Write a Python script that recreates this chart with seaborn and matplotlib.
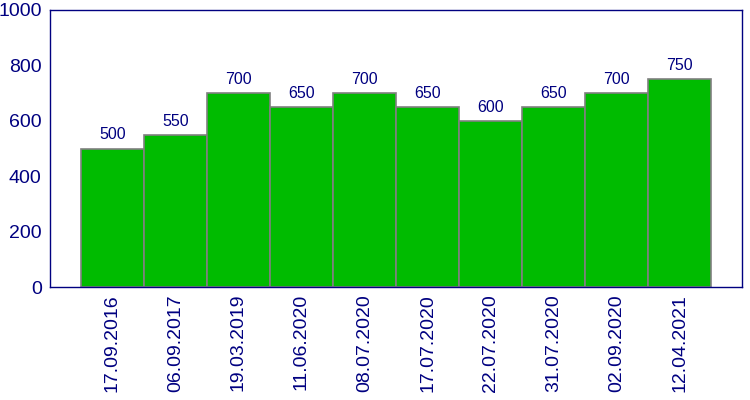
import pandas as pd
import seaborn as sns
import matplotlib.pyplot as plt

dates = ["17.09.2016", "06.09.2017", "19.03.2019", "11.06.2020", "08.07.2020",
         "17.07.2020", "22.07.2020", "31.07.2020", "02.09.2020", "12.04.2021"]
values = [500, 550, 700, 650, 700, 650, 600, 650, 700, 750]

navy = "#000080"
sns.set_style("white")
plt.rcParams['font.family'] = ['Liberation Sans', 'DejaVu Sans']

df = pd.DataFrame({"date": dates, "value": values})

fig = plt.figure(figsize=(7.5, 4), dpi=100)
ax = fig.add_axes([50/750, 113/400, 692/750, 277/400])
sns.barplot(data=df, x="date", y="value", color="#00bb00", saturation=1,
            width=1, edgecolor="#808080", linewidth=1.2, ax=ax)

for i, v in enumerate(values):
    ax.text(i, v + 22, str(v), ha="center", va="bottom", fontsize=11.5, color=navy)

ax.set_xlim(-0.99, 9.99)
ax.set_ylim(0, 1000)
ax.set_yticks(range(0, 1001, 200))
ax.set_xlabel("")
ax.set_ylabel("")
ax.tick_params(axis="x", length=0, labelrotation=90, labelsize=14, labelcolor=navy, pad=5)
ax.tick_params(axis="y", direction="in", length=4, color=navy, labelsize=14, labelcolor=navy, pad=6)
for s in ax.spines.values():
    s.set_color(navy)
    s.set_linewidth(1)

fig.savefig("out.png", dpi=100)
